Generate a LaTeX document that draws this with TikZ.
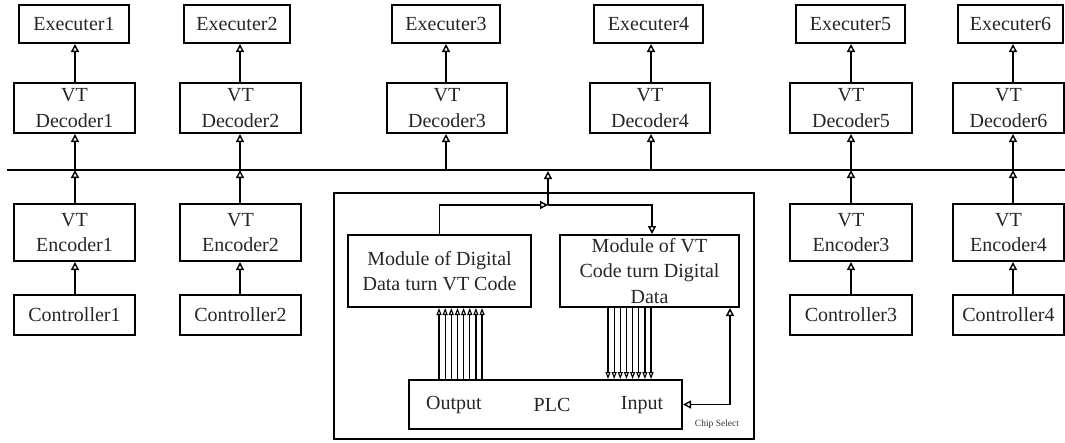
\documentclass[tikz,border=0pt]{standalone}
\usepackage{fontspec}
\setmainfont{Liberation Serif}
\usetikzlibrary{arrows.meta}
\begin{document}
\begin{tikzpicture}[x=1pt,y=-1pt,
  blk/.style={draw, line width=2pt, inner sep=0pt, align=center, text=black!85,
    font=\rmfamily\fontsize{20}{25.5}\selectfont},
  lbl/.style={inner sep=0pt, text=black!85, font=\rmfamily\fontsize{20}{24}\selectfont},
  con/.style={line width=1.8pt, -{Triangle[open,length=8pt,width=8pt,line width=1.4pt]}},
  dcon/.style={line width=1.8pt, {Triangle[open,length=8pt,width=8pt,line width=1.4pt]}-{Triangle[open,length=8pt,width=8pt,line width=1.4pt]}},
  pcon/.style={line width=1.2pt, -{Triangle[open,length=7pt,width=5pt,line width=1.1pt]}}]
\useasboundingbox (0,0) rectangle (1065,442);

% bus
\coordinate (busL) at (7,170);
\coordinate (busR) at (1065,170);
\draw[line width=2pt] (busL) -- (busR);

% executers and decoders
\foreach \i/\col/\ex/\ew/\dx/\dw in {1/75/74/110/74.5/121, 2/240/237/106/240.5/121, 3/446/446/108/447/120, 4/651/648.5/109/650/120, 5/851/850.5/109/851/122, 6/1013/1010.5/105/1008.5/111}{
  \coordinate (c\i) at (\col,170);
  \node[blk, minimum width=\ew pt, minimum height=38pt] (e\i) at (\ex,24) {Executer\i};
  \node[blk, minimum width=\dw pt, minimum height=50pt] (d\i) at (\dx,108) {VT\\Decoder\i};
  \draw[con] (c\i) -- (d\i.south -| c\i);
  \draw[con] (d\i.north -| c\i) -- (e\i.south -| c\i);
}

% encoders and controllers
\foreach \i/\c/\x/\w in {1/1/74.5/121, 2/2/240.5/121, 3/5/851/122, 4/6/1008.5/111}{
  \node[blk, minimum width=\w pt, minimum height=57pt] (n\i) at (\x,232.5) {VT\\Encoder\i};
  \node[blk, minimum width=\w pt, minimum height=40pt] (k\i) at (\x,315) {Controller\i};
  \draw[con] (k\i.north -| c\c) -- (n\i.south -| c\c);
  \draw[con] (n\i.north -| c\c) -- (c\c);
}

% central block
\node[draw, line width=2pt, minimum width=420pt, minimum height=246pt, inner sep=0pt] (frame) at (544,316) {};
\node[blk, minimum width=183pt, minimum height=72pt] (dd) at (439.5,271) {Module of Digital\\Data turn VT Code};
\node[blk, minimum width=179pt, minimum height=72pt] (vt) at (649.5,271) {Module of VT\\Code turn Digital\\Data};
\node[draw, line width=2pt, minimum width=273pt, minimum height=49pt, inner sep=0pt] (plc) at (545.5,404.5) {};
\node[lbl] (outp) at (454,405) {Output};
\node[lbl] (plct) at (552,405) {PLC};
\node[lbl] (inp) at (642,405) {Input};
\node[inner sep=0pt, text=black!80, font=\rmfamily\fontsize{9.5}{11}\selectfont] (chip) at (717,424) {Chip Select};

% bus connection
\coordinate (j) at (548,205);
\coordinate (bj) at (548,171);
\draw[con] (dd.north) |- (j);
\draw[con] (j) -- (bj);
\draw[con] (j) -| ([xshift=2.5pt]vt.north);

% parallel data lines
\foreach \k in {0,...,7}{
  \coordinate (pl\k) at ({439+6.15*\k},0);
  \coordinate (pr\k) at ({608+6.15*\k},0);
  \draw[pcon] (plc.north -| pl\k) -- (dd.south -| pl\k);
  \draw[pcon] (vt.south -| pr\k) -- (plc.north -| pr\k);
}

% chip select
\coordinate (cs) at (730,404.5);
\draw[dcon] (vt.south -| cs) -- (cs) -- (plc.east);
\end{tikzpicture}
\end{document}
